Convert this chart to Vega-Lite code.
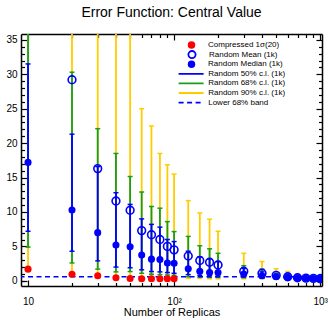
{
  "$schema": "https://vega.github.io/schema/vega-lite/v6.json",
  "width": 301,
  "height": 252,
  "autosize": {"type": "none"},
  "padding": {"left": 21, "top": 34, "right": 6, "bottom": 34},
  "title": {"text": "Error Function: Central Value", "fontSize": 14, "font": "Liberation Sans", "fontWeight": "normal", "color": "#000", "offset": 13},
  "config": {
    "view": {"stroke": null},
    "font": "Liberation Sans",
    "axis": {"grid": false, "domainColor": "#000", "tickColor": "#000", "labelColor": "#000", "titleColor": "#000", "labelFont": "Liberation Sans", "titleFont": "Liberation Sans", "domainWidth": 1.5, "tickWidth": 1.2},
    "legend": {"orient": "none", "title": null, "padding": 0, "labelFont": "Liberation Sans", "labelFontSize": 8, "labelColor": "#000", "clipHeight": 9.6, "rowPadding": 0, "symbolOpacity": 1}
  },
  "data": {"values": [
    {"n": 10, "mean": 45, "median": 17.2, "lo50": 7.2, "hi50": 31.5, "lo68": 4.9, "hi68": 40, "lo90": 1.5, "hi90": 60, "comp": 1.7},
    {"n": 20, "mean": 29.2, "median": 10.3, "lo50": 4.3, "hi50": 21.3, "lo68": 2.6, "hi68": 30.3, "lo90": 1.0, "hi90": 45, "comp": 0.95},
    {"n": 30, "mean": 16.3, "median": 7.0, "lo50": 2.9, "hi50": 16.6, "lo68": 1.7, "hi68": 22.1, "lo90": 0.8, "hi90": 42, "comp": 0.75},
    {"n": 40, "mean": 11.6, "median": 5.2, "lo50": 2.0, "hi50": 12.8, "lo68": 1.3, "hi68": 18.5, "lo90": 0.6, "hi90": 40, "comp": 0.45},
    {"n": 50, "mean": 10.25, "median": 4.95, "lo50": 1.9, "hi50": 11.1, "lo68": 1.35, "hi68": 15.15, "lo90": 0.6, "hi90": 38, "comp": 0.35},
    {"n": 60, "mean": 7.3, "median": 3.75, "lo50": 1.6, "hi50": 9.0, "lo68": 1.1, "hi68": 12.9, "lo90": 0.5, "hi90": 25.0, "comp": 0.3},
    {"n": 70, "mean": 6.7, "median": 3.15, "lo50": 1.35, "hi50": 8.2, "lo68": 0.95, "hi68": 10.8, "lo90": 0.5, "hi90": 22.5, "comp": 0.3},
    {"n": 80, "mean": 6.0, "median": 3.1, "lo50": 1.3, "hi50": 7.8, "lo68": 0.9, "hi68": 10.55, "lo90": 0.5, "hi90": 18.5, "comp": 0.3},
    {"n": 90, "mean": 5.0, "median": 2.6, "lo50": 1.2, "hi50": 6.0, "lo68": 0.85, "hi68": 8.6, "lo90": 0.45, "hi90": 16.85, "comp": 0.3},
    {"n": 100, "mean": 4.5, "median": 2.55, "lo50": 1.1, "hi50": 5.7, "lo68": 0.8, "hi68": 7.15, "lo90": 0.45, "hi90": 15.5, "comp": 0.3},
    {"n": 125, "mean": 3.6, "median": 1.75, "lo50": 0.9, "hi50": 4.3, "lo68": 0.6, "hi68": 6.45, "lo90": 0.35, "hi90": 11.65},
    {"n": 150, "mean": 2.95, "median": 1.4, "lo50": 0.8, "hi50": 3.5, "lo68": 0.55, "hi68": 5.1, "lo90": 0.35, "hi90": 9.85},
    {"n": 175, "mean": 2.7, "median": 1.2, "lo50": 0.75, "hi50": 3.2, "lo68": 0.5, "hi68": 4.65, "lo90": 0.3, "hi90": 8.95},
    {"n": 200, "mean": 2.3, "median": 1.2, "lo50": 0.7, "hi50": 2.8, "lo68": 0.5, "hi68": 4.0, "lo90": 0.3, "hi90": 7.2},
    {"n": 300, "mean": 1.4, "median": 1.0, "lo50": 0.6, "hi50": 1.8, "lo68": 0.45, "hi68": 2.2, "lo90": 0.3, "hi90": 4.0},
    {"n": 400, "mean": 1.1, "median": 0.75, "lo50": 0.5, "hi50": 1.3, "lo68": 0.4, "hi68": 1.7, "lo90": 0.3, "hi90": 2.8},
    {"n": 500, "mean": 0.8, "median": 0.6, "lo50": 0.45, "hi50": 0.95, "lo68": 0.35, "hi68": 1.1, "lo90": 0.28, "hi90": 1.75},
    {"n": 600, "mean": 0.6, "median": 0.5, "lo50": 0.4, "hi50": 0.75, "lo68": 0.32, "hi68": 0.9, "lo90": 0.25, "hi90": 1.35},
    {"n": 700, "mean": 0.45, "median": 0.42, "lo50": 0.32, "hi50": 0.55, "lo68": 0.28, "hi68": 0.65, "lo90": 0.22, "hi90": 0.8},
    {"n": 800, "mean": 0.4, "median": 0.38, "lo50": 0.3, "hi50": 0.5, "lo68": 0.25, "hi68": 0.55, "lo90": 0.2, "hi90": 0.7},
    {"n": 900, "mean": 0.36, "median": 0.35, "lo50": 0.28, "hi50": 0.45, "lo68": 0.24, "hi68": 0.5, "lo90": 0.2, "hi90": 0.6},
    {"n": 1000, "mean": 0.3, "median": 0.28, "lo50": 0.24, "hi50": 0.38, "lo68": 0.2, "hi68": 0.42, "lo90": 0.15, "hi90": 0.5}
  ]},
  "resolve": {
    "axis": {"x": "independent", "y": "independent"},
    "scale": {"shape": "independent", "strokeDash": "independent"},
    "legend": {"shape": "independent", "strokeDash": "independent"}
  },
  "layer": [
    {
      "mark": {"type": "rule", "strokeWidth": 1.8, "clip": true, "color": "#ffcc00"},
      "encoding": {
        "x": {"field": "n", "type": "quantitative", "scale": {"type": "log", "domain": [8.95, 1030], "nice": false},
              "axis": {"orient": "bottom", "values": [10, 100, 1000], "labelExpr": "datum.value == 10 ? '10' : datum.value == 100 ? '10²' : '10³'", "tickSize": -6, "labelPadding": 16, "labelFontSize": 10, "labelFlush": false, "labelOverlap": false, "title": "Number of Replicas", "titleFontSize": 11, "titleFontWeight": "normal", "titlePadding": 0, "encode": {"labels": {"update": {"dy": {"signal": "datum.value == 10 ? 4 : 0"}}}}}},
        "y": {"field": "lo90", "type": "quantitative", "scale": {"domain": [-0.75, 35.85], "nice": false, "zero": false},
              "axis": {"orient": "left", "values": [0, 5, 10, 15, 20, 25, 30, 35], "tickSize": -6, "labelPadding": 10, "labelFontSize": 10, "title": null}},
        "y2": {"field": "hi90"},
        "strokeDash": {"datum": "Random 90% c.l. (1k)", "scale": {"range": [[1, 0]]},
          "legend": {"legendX": 156.6, "legendY": 54.2, "symbolSize": 625, "symbolStrokeWidth": 1.8, "labelOffset": 3.6}}
      }
    },
    {
      "mark": {"type": "rule", "strokeWidth": 1.8, "clip": true, "color": "#1a9e1a"},
      "encoding": {
        "x": {"field": "n", "type": "quantitative", "axis": {"orient": "bottom", "values": [20, 30, 40, 50, 60, 70, 80, 90, 200, 300, 400, 500, 600, 700, 800, 900], "tickSize": -3.5, "labels": false, "domain": false, "title": null}},
        "y": {"field": "lo68", "type": "quantitative", "axis": {"orient": "left", "values": [0, 1, 2, 3, 4, 6, 7, 8, 9, 11, 12, 13, 14, 16, 17, 18, 19, 21, 22, 23, 24, 26, 27, 28, 29, 31, 32, 33, 34], "tickSize": -3.5, "labels": false, "domain": false, "title": null}},
        "y2": {"field": "hi68"},
        "strokeDash": {"datum": "Random 68% c.l. (1k)", "scale": {"range": [[1, 0]]},
          "legend": {"legendX": 156.6, "legendY": 44.6, "symbolSize": 625, "symbolStrokeWidth": 1.8, "labelOffset": 3.6}}
      }
    },
    {
      "mark": {"type": "rule", "strokeWidth": 1.8, "clip": true, "color": "#0000ff"},
      "encoding": {
        "x": {"field": "n", "type": "quantitative", "axis": {"orient": "top", "values": [10, 100, 1000], "tickSize": -6, "labels": false, "title": null}},
        "y": {"field": "lo50", "type": "quantitative", "axis": {"orient": "right", "values": [0, 5, 10, 15, 20, 25, 30, 35], "tickSize": -6, "labels": false, "title": null}},
        "y2": {"field": "hi50"},
        "strokeDash": {"datum": "Random 50% c.l. (1k)", "scale": {"range": [[1, 0]]},
          "legend": {"legendX": 156.6, "legendY": 35, "symbolSize": 625, "symbolStrokeWidth": 1.8, "labelOffset": 3.6}}
      }
    },
    {
      "mark": {"type": "tick", "orient": "horizontal", "size": 5, "thickness": 1.5, "opacity": 1, "clip": true, "color": "#ffcc00"},
      "encoding": {
        "x": {"field": "n", "type": "quantitative", "axis": {"orient": "top", "values": [20, 30, 40, 50, 60, 70, 80, 90, 200, 300, 400, 500, 600, 700, 800, 900], "tickSize": -3.5, "labels": false, "domain": false, "title": null}},
        "y": {"field": "hi90", "type": "quantitative", "axis": {"orient": "right", "values": [0, 1, 2, 3, 4, 6, 7, 8, 9, 11, 12, 13, 14, 16, 17, 18, 19, 21, 22, 23, 24, 26, 27, 28, 29, 31, 32, 33, 34], "tickSize": -3.5, "labels": false, "domain": false, "title": null}}
      }
    },
    {
      "mark": {"type": "tick", "orient": "horizontal", "size": 5, "thickness": 1.5, "opacity": 1, "clip": true, "color": "#ffcc00"},
      "encoding": {
        "x": {"field": "n", "type": "quantitative", "axis": null},
        "y": {"field": "lo90", "type": "quantitative", "axis": null}
      }
    },
    {
      "mark": {"type": "tick", "orient": "horizontal", "size": 5, "thickness": 1.5, "opacity": 1, "clip": true, "color": "#1a9e1a"},
      "encoding": {
        "x": {"field": "n", "type": "quantitative", "axis": null},
        "y": {"field": "hi68", "type": "quantitative", "axis": null}
      }
    },
    {
      "mark": {"type": "tick", "orient": "horizontal", "size": 5, "thickness": 1.5, "opacity": 1, "clip": true, "color": "#1a9e1a"},
      "encoding": {
        "x": {"field": "n", "type": "quantitative", "axis": null},
        "y": {"field": "lo68", "type": "quantitative", "axis": null}
      }
    },
    {
      "mark": {"type": "tick", "orient": "horizontal", "size": 5, "thickness": 1.5, "opacity": 1, "clip": true, "color": "#0000ff"},
      "encoding": {
        "x": {"field": "n", "type": "quantitative", "axis": null},
        "y": {"field": "hi50", "type": "quantitative", "axis": null}
      }
    },
    {
      "mark": {"type": "tick", "orient": "horizontal", "size": 5, "thickness": 1.5, "opacity": 1, "clip": true, "color": "#0000ff"},
      "encoding": {
        "x": {"field": "n", "type": "quantitative", "axis": null},
        "y": {"field": "lo50", "type": "quantitative", "axis": null}
      }
    },
    {
      "data": {"values": [{"band": 0.6}]},
      "mark": {"type": "rule", "strokeWidth": 1.6, "clip": true, "color": "#0000ff"},
      "encoding": {
        "y": {"field": "band", "type": "quantitative", "axis": null},
        "strokeDash": {"datum": "Lower 68% band", "scale": {"range": [[5, 3.5]]},
          "legend": {"legendX": 156.6, "legendY": 63.8, "symbolSize": 625, "symbolStrokeWidth": 1.8, "labelOffset": 3.6}}
      }
    },
    {
      "mark": {"type": "point", "filled": true, "size": 50, "opacity": 1, "clip": true, "color": "#ff0000"},
      "encoding": {
        "x": {"field": "n", "type": "quantitative", "axis": null},
        "y": {"field": "comp", "type": "quantitative", "axis": null},
        "shape": {"datum": "Compressed 1σ(20)", "scale": {"range": ["circle"]},
          "legend": {"legendX": 166, "legendY": 6.2, "symbolSize": 56, "labelOffset": 12}}
      }
    },
    {
      "mark": {"type": "point", "filled": false, "size": 60, "strokeWidth": 1.6, "opacity": 1, "clip": true, "color": "#0000ff"},
      "encoding": {
        "x": {"field": "n", "type": "quantitative", "axis": null},
        "y": {"field": "mean", "type": "quantitative", "axis": null},
        "shape": {"datum": "Random Mean (1k)", "scale": {"range": ["circle"]},
          "legend": {"legendX": 166, "legendY": 15.8, "symbolSize": 52, "symbolStrokeWidth": 1.8, "labelOffset": 12}}
      }
    },
    {
      "mark": {"type": "point", "filled": true, "size": 50, "opacity": 1, "clip": true, "color": "#0000ff"},
      "encoding": {
        "x": {"field": "n", "type": "quantitative", "axis": null},
        "y": {"field": "median", "type": "quantitative", "axis": null},
        "shape": {"datum": "Random Median (1k)", "scale": {"range": ["circle"]},
          "legend": {"legendX": 166, "legendY": 25.4, "symbolSize": 56, "labelOffset": 12}}
      }
    }
  ]
}
